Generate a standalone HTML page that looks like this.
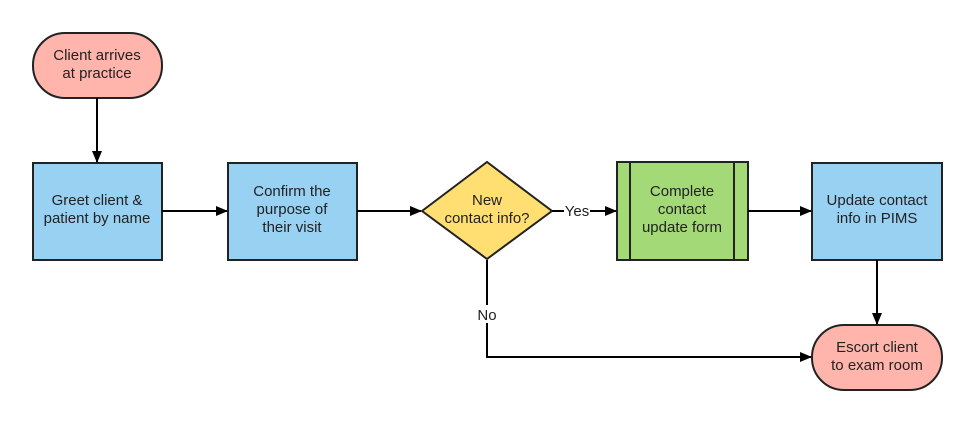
<!DOCTYPE html>
<html><head><meta charset="utf-8"><style>body{margin:0;background:#fff}svg{display:block}text{font-family:"Liberation Sans",sans-serif;font-size:15px;fill:#222;text-anchor:middle}</style></head>
<body>
<svg width="975" height="423" viewBox="0 0 975 423">
<defs><marker id="a" markerWidth="12" markerHeight="10" refX="11" refY="5" orient="auto" markerUnits="userSpaceOnUse"><path d="M0,0 L12,5 L0,10 Z" fill="#000"/></marker></defs>
<g stroke="#222" stroke-width="2">
<rect x="33" y="33" width="129" height="65" rx="32" fill="#ffb5ab"/>
<rect x="33" y="163" width="129" height="97" fill="#99d1f3"/>
<rect x="228" y="163" width="129" height="97" fill="#99d1f3"/>
<path d="M422,211 L487,162 L552,211 L487,259 Z" fill="#ffdf71"/>
<rect x="617" y="162" width="131" height="98" fill="#a3d977"/>
<line x1="630" y1="162" x2="630" y2="260"/><line x1="734" y1="162" x2="734" y2="260"/>
<rect x="812" y="163" width="130" height="97" fill="#99d1f3"/>
<rect x="812" y="325" width="130" height="65" rx="32" fill="#ffb5ab"/>
</g>
<g stroke="#000" stroke-width="2" fill="none" marker-end="url(#a)">
<line x1="97" y1="98" x2="97" y2="162"/>
<line x1="162" y1="211" x2="227" y2="211"/>
<line x1="357" y1="211" x2="421" y2="211"/>
<line x1="590" y1="211" x2="616" y2="211"/>
<line x1="748" y1="211" x2="811" y2="211"/>
<line x1="877" y1="260" x2="877" y2="324"/>
<polyline points="487,260 487,357 811,357"/>
</g>
<line x1="552" y1="211" x2="564" y2="211" stroke="#000" stroke-width="2"/>
<rect x="476" y="305" width="22" height="18" fill="#fff"/>
<text x="577" y="216">Yes</text>
<text x="487" y="320">No</text>
<text x="97" y="60">Client arrives</text><text x="97" y="78">at practice</text>
<text x="97" y="205">Greet client &amp;</text><text x="97" y="223">patient by name</text>
<text x="292" y="196">Confirm the</text><text x="292" y="214">purpose of</text><text x="292" y="232">their visit</text>
<text x="487" y="205">New</text><text x="487" y="223">contact info?</text>
<text x="682" y="196">Complete</text><text x="682" y="214">contact</text><text x="682" y="232">update form</text>
<text x="877" y="205">Update contact</text><text x="877" y="223">info in PIMS</text>
<text x="877" y="352">Escort client</text><text x="877" y="370">to exam room</text>
</svg>
</body></html>
